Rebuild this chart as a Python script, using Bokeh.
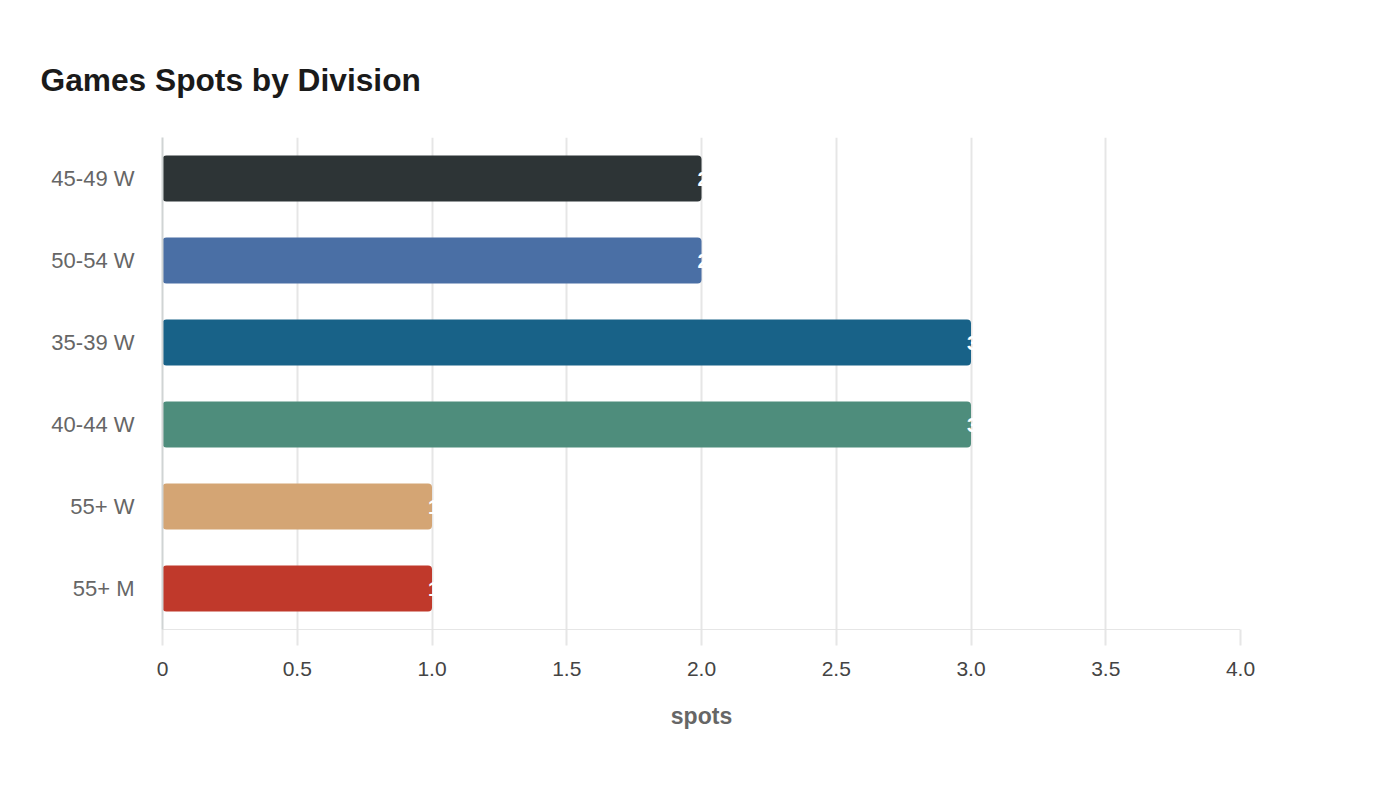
from bokeh.plotting import figure
from bokeh.models import ColumnDataSource, FixedTicker, Range1d, FactorRange
from bokeh.embed import file_html
from bokeh.resources import INLINE
from bokeh.core.properties import value

divisions = ["45-49 W", "50-54 W", "35-39 W", "40-44 W", "55+ W", "55+ M"]
spots = [2, 2, 3, 3, 1, 1]
colors = ["#2d3436", "#4a6fa5", "#186288", "#4e8d7c", "#d4a574", "#c0392b"]
x_ticks = [0, 0.5, 1, 1.5, 2, 2.5, 3, 3.5, 4]
x_tick_labels = ["0", "0.5", "1.0", "1.5", "2.0", "2.5", "3.0", "3.5", "4.0"]

FONT = "Liberation Sans"

src = ColumnDataSource(dict(div=divisions, spots=spots, color=colors,
                            label=[str(v) for v in spots]))

p = figure(width=1380, height=780, output_backend="svg", toolbar_location=None,
           y_range=FactorRange(factors=list(reversed(divisions)), range_padding=0),
           x_range=Range1d(0, 4),
           min_border_left=162, min_border_right=140,
           min_border_top=137, min_border_bottom=151)
p.outline_line_color = None

p.hbar(y="div", right="spots", left=0, height=0.56, source=src,
       fill_color="color", line_color=None, border_radius=4)
p.text(x="spots", y="div", text="label", source=src, text_color="white",
       text_align="left", text_baseline="middle", text_font=value(FONT),
       text_font_size="20px", text_font_style="bold", x_offset=-4)

p.title.text = "Games Spots by Division"
p.title.text_font = FONT
p.title.text_font_size = "31.7px"
p.title.text_font_style = "bold"
p.title.text_color = "#1a1a1a"
p.title.align = "left"
p.title.offset = -122
p.title.standoff = 80

p.xgrid.ticker = FixedTicker(ticks=x_ticks)
p.xgrid.grid_line_color = "#e6e6e6"
p.xgrid.grid_line_width = 2
p.ygrid.grid_line_color = None

xa = p.xaxis[0]
xa.ticker = FixedTicker(ticks=x_ticks)
xa.major_label_overrides = {t: l for t, l in zip(x_ticks, x_tick_labels)}
xa.major_label_text_font = FONT
xa.major_label_text_font_size = "21px"
xa.major_label_text_color = "#444444"
xa.major_label_standoff = 16
xa.major_tick_in = 0
xa.major_tick_out = 16
xa.major_tick_line_color = "#e6e6e6"
xa.major_tick_line_width = 2
xa.minor_tick_line_color = None
xa.axis_line_color = "#cccccc"
xa.axis_line_dash = "1 1"
xa.axis_line_width = 1
xa.axis_label = "spots"
xa.axis_label_text_font = FONT
xa.axis_label_text_font_size = "23px"
xa.axis_label_text_font_style = "bold"
xa.axis_label_text_color = "#666666"
xa.axis_label_standoff = 24

ya = p.yaxis[0]
ya.major_label_text_font = FONT
ya.major_label_text_font_size = "22px"
ya.major_label_text_color = "#666666"
ya.major_label_standoff = 22
ya.major_tick_line_color = None
ya.minor_tick_line_color = None
ya.axis_line_color = "#d0d4d4"
ya.axis_line_width = 2

open("out.html", "w").write(file_html(p, INLINE))
